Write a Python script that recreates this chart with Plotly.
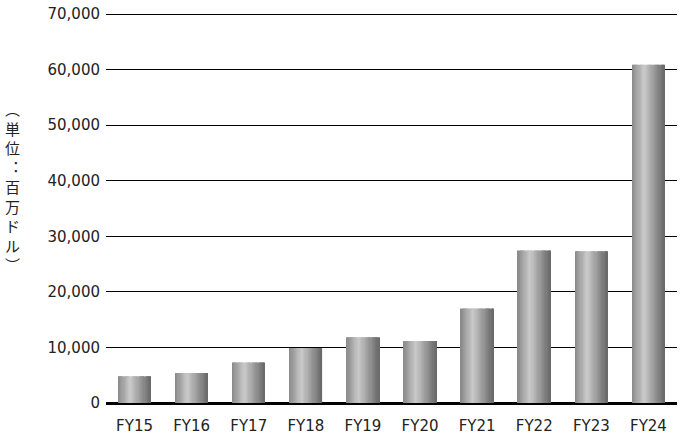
import plotly.graph_objects as go

categories = ["FY15", "FY16", "FY17", "FY18", "FY19", "FY20", "FY21", "FY22", "FY23", "FY24"]
values = [4800, 5400, 7300, 9900, 11850, 11150, 17000, 27450, 27300, 60900]
y_ticks = [0, 10000, 20000, 30000, 40000, 50000, 60000, 70000]
y_tick_labels = ["0", "10,000", "20,000", "30,000", "40,000", "50,000", "60,000", "70,000"]
axis_title_chars = ["︵", "単", "位", "︓", "百", "万", "ド", "ル", "︶"]

BAR_W = 0.57
N = 28
stops = [(0.0, 136), (0.38, 202), (1.0, 104)]


def shade(t):
    for (t0, g0), (t1, g1) in zip(stops[:-1], stops[1:]):
        if t0 <= t <= t1:
            return g0 + (g1 - g0) * (t - t0) / (t1 - t0)
    return stops[-1][1]


fig = go.Figure()
strip = BAR_W / N
for i in range(N):
    t = (i + 0.5) / N
    g = int(round(shade(t)))
    w = strip * 1.08 if i < N - 1 else strip
    fig.add_trace(go.Bar(
        x=categories, y=values,
        width=w, offset=-BAR_W / 2 + i * strip,
        marker=dict(color=f"rgb({g},{g},{g})", line=dict(width=0)),
        hoverinfo="skip", showlegend=False,
    ))

font_main = dict(family="DejaVu Sans", size=15, color="#222222")

W, H = 683, 444
L, R, T, B = 106, 6, 13, 41
plot_w = W - L - R
plot_h = H - T - B

fig.update_layout(
    width=W, height=H,
    margin=dict(l=L, r=R, t=T, b=B),
    paper_bgcolor="white", plot_bgcolor="white",
    barmode="overlay",
    xaxis=dict(
        type="category", showgrid=False, showline=False, zeroline=False,
        ticks="outside", ticklen=9, tickcolor="rgba(0,0,0,0)",
        tickfont=font_main,
    ),
    yaxis=dict(
        range=[0, 70200], tickvals=y_ticks, ticktext=y_tick_labels,
        showgrid=True, gridcolor="black", gridwidth=1,
        zeroline=True, zerolinecolor="black", zerolinewidth=3,
        showline=False, ticks="outside", ticklen=2, tickcolor="rgba(0,0,0,0)",
        tickfont=font_main, ticklabeloverflow="allow",
    ),
    annotations=[dict(
        text="<br>".join(axis_title_chars),
        xref="paper", yref="paper", x=(12.5 - L) / plot_w, y=(H - B - 186) / plot_h,
        xanchor="center", yanchor="middle", showarrow=False,
        font=dict(family="Noto Sans CJK JP", size=15, color="#222222"),
    )],
)

fig.write_html("out.html", config={"displayModeBar": False},
               post_script="document.body.style.margin='0';")
